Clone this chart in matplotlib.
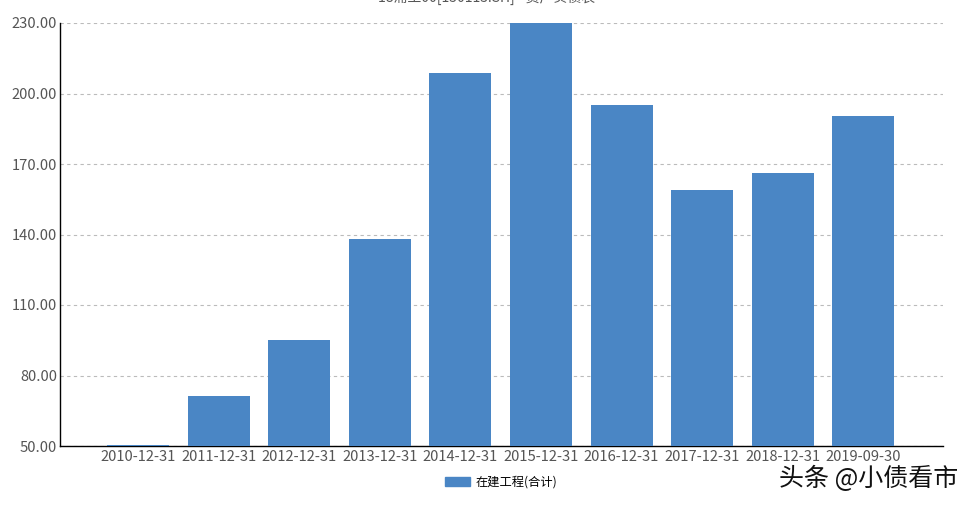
import matplotlib
matplotlib.use("Agg")
import matplotlib.pyplot as plt
from matplotlib.patches import Patch

plt.rcParams['font.family'] = ['Noto Sans CJK SC', 'DejaVu Sans']

dates = ['2010-12-31', '2011-12-31', '2012-12-31', '2013-12-31', '2014-12-31',
         '2015-12-31', '2016-12-31', '2017-12-31', '2018-12-31', '2019-09-30']
values = [50.5, 71.3, 95.1, 138.1, 208.7, 231.0, 195.1, 158.9, 166.2, 190.4]
yticks = [50, 80, 110, 140, 170, 200, 230]
series_name = '在建工程(合计)'
bar_color = '#4a86c5'

fig = plt.figure(figsize=(9.73, 5.05), dpi=100)
ax = fig.add_axes([60 / 973, 1 - 446 / 505, 883 / 973, 423 / 505])

x = list(range(len(dates)))
ax.bar(x, values, width=0.77, color=bar_color, zorder=3)
ax.set_xlim(-0.97, 9.99)
ax.set_ylim(50, 230)
ax.set_yticks(yticks)
ax.set_yticklabels(['%.2f' % v for v in yticks])
ax.set_xticks(x)
ax.set_xticklabels(dates)
ax.tick_params(axis='both', length=0, labelsize=10.6, colors='#555555', pad=3)
ax.tick_params(axis='y', pad=2)
ax.grid(True, axis='y', linestyle=(0, (3, 3)), color='#bbbbbb', linewidth=0.8, zorder=0)
for s in ['top', 'right']:
    ax.spines[s].set_visible(False)
for s in ['left', 'bottom']:
    ax.spines[s].set_color('black')
    ax.spines[s].set_linewidth(1.0)

# title, mostly cut off at the top edge (as in the source screenshot)
fig.text(0.5, 1.0 + 3 / 505, '18浦土00[150113.SH] - 资产负债表', ha='center', va='center',
         fontsize=10, color='#555555')

ax.legend(handles=[Patch(color=bar_color, label=series_name)], loc='upper center',
          bbox_to_anchor=(0.5, -0.045), frameon=False, fontsize=8.8,
          handlelength=2.0, handleheight=0.75, handletextpad=0.5)

fig.text(0.985, 0.051, '头条 @小债看市', ha='right', va='center', fontsize=18,
         color='#111111')

fig.savefig('out.png', dpi=100)
